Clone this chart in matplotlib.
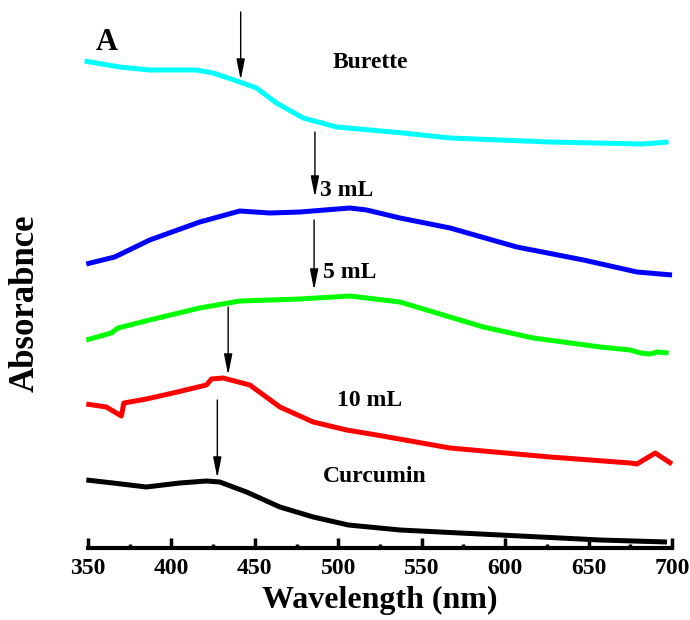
import numpy as np
import matplotlib
matplotlib.use('Agg')
import matplotlib.pyplot as plt

plt.rcParams['font.family'] = ['Liberation Serif', 'DejaVu Serif']
plt.rcParams['font.weight'] = 'bold'

# spectra (wavelength in nm, absorbance in arbitrary offset units)
burette_x = [348, 369, 387, 415, 425, 441, 451, 463, 479, 499, 539, 567, 627, 682, 698]
burette_y = [4.84, 4.78, 4.75, 4.75, 4.72, 4.63, 4.57, 4.42, 4.27, 4.18, 4.12, 4.07, 4.03, 4.01, 4.03]

ml3_x = [349, 366, 387, 417, 441, 459, 477, 507, 517, 537, 567, 607, 647, 679, 700]
ml3_y = [2.81, 2.88, 3.05, 3.23, 3.34, 3.32, 3.33, 3.37, 3.35, 3.27, 3.17, 2.98, 2.85, 2.73, 2.70]

ml5_x = [349, 364, 368, 387, 417, 441, 477, 507, 517, 537, 567, 587, 617, 657, 675, 681, 687, 691, 698]
ml5_y = [2.05, 2.12, 2.17, 2.25, 2.37, 2.44, 2.46, 2.49, 2.47, 2.43, 2.28, 2.18, 2.07, 1.98, 1.95, 1.92, 1.91, 1.93, 1.92]

ml10_x = [349, 361, 370, 371.5, 385, 401, 421, 424, 431, 447, 465, 485, 505, 523, 567, 627, 675, 679, 690, 700]
ml10_y = [1.41, 1.38, 1.29, 1.42, 1.46, 1.52, 1.60, 1.66, 1.67, 1.60, 1.38, 1.23, 1.15, 1.10, 0.97, 0.88, 0.82, 0.81, 0.92, 0.81]

curcumin_x = [349, 365, 385, 405, 421, 429, 445, 465, 485, 506, 537, 597, 657, 697]
curcumin_y = [0.65, 0.62, 0.58, 0.62, 0.64, 0.63, 0.53, 0.38, 0.28, 0.20, 0.15, 0.10, 0.05, 0.03]

series = [
    (burette_x, burette_y, '#00ffff'),
    (ml3_x, ml3_y, '#0000ff'),
    (ml5_x, ml5_y, '#00ff00'),
    (ml10_x, ml10_y, '#ff0000'),
    (curcumin_x, curcumin_y, 'black'),
]

labels = ['Burette', '3 mL', '5 mL', '10 mL', 'Curcumin']
label_x = [519, 505, 507, 519, 522]
label_y = [4.83, 3.55, 2.73, 1.45, 0.68]

# arrows: x, y start, y end
arrow_x = [441.5, 486, 485.5, 434, 427.5]
arrow_y0 = [5.33, 4.13, 3.25, 2.38, 1.45]
arrow_y1 = [4.65, 3.48, 2.55, 1.70, 0.67]

fig = plt.figure(figsize=(6.9, 6.2), dpi=100)
ax = fig.add_axes([88 / 690, 72 / 620, 584 / 690, 548 / 620])

for x, y, c in series:
    ax.plot(x, y, color=c, lw=3.6, clip_on=False, solid_capstyle='butt')

for xa, y0, y1 in zip(arrow_x, arrow_y0, arrow_y1):
    ax.annotate('', xy=(xa, y1), xytext=(xa, y0),
                arrowprops=dict(arrowstyle='-|>,head_length=0.9,head_width=0.18',
                                color='black', lw=1, mutation_scale=14,
                                shrinkA=0, shrinkB=0))

for t, lx, ly in zip(labels, label_x, label_y):
    ax.text(lx, ly, t, fontsize=17, fontweight='bold', ha='center', va='center')

ax.text(361.5, 5.03, 'A', fontsize=22, fontweight='bold', ha='center', va='center')

ax.set_xlim(350, 700)
ax.set_ylim(-0.03, 5.45)
for s in ['left', 'right', 'top']:
    ax.spines[s].set_visible(False)
ax.spines['bottom'].set_linewidth(3)
ax.set_yticks([])
ax.set_xticks(np.arange(350, 701, 50))
ax.set_xticks(np.arange(375, 700, 50), minor=True)
ax.tick_params(axis='x', which='major', direction='in', length=7, width=2.5,
               labelsize=17, pad=7)
ax.tick_params(axis='x', which='minor', direction='in', length=3, width=2.5)
for lab in ax.get_xticklabels():
    lab.set_fontweight('bold')

ax.set_xlabel('Wavelength (nm)', fontsize=23, fontweight='bold', labelpad=5)
ax.set_ylabel('Absorabnce', fontsize=25, fontweight='bold')
ax.yaxis.set_label_coords(-0.080, 0.447)

fig.savefig('out.png', dpi=100)
